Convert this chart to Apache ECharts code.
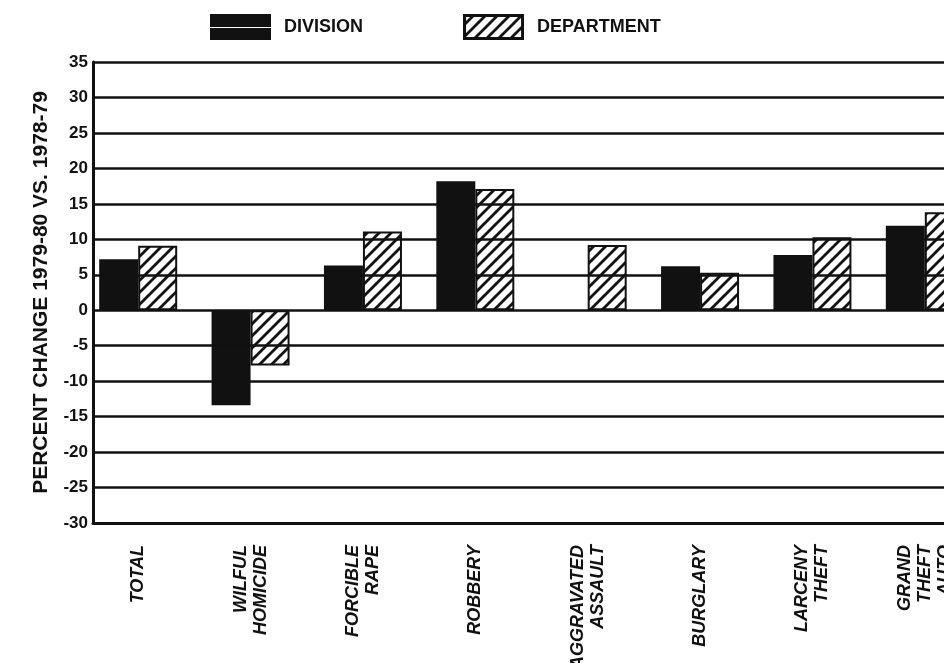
<!DOCTYPE html>
<html>
<head>
<meta charset="utf-8">
<title>Percent change 1979-80 vs. 1978-79</title>
<script src="https://cdn.jsdelivr.net/npm/echarts@6/dist/echarts.min.js"></script>
<style>
  html, body { margin: 0; padding: 0; background: #fff; }
  #chart { width: 944px; height: 663px; }
</style>
</head>
<body>
<div id="chart"></div>
<script>
// data
const categories = [
  'TOTAL',
  'WILFUL\nHOMICIDE',
  'FORCIBLE\nRAPE',
  'ROBBERY',
  'AGGRAVATED\nASSAULT',
  'BURGLARY',
  'LARCENY\nTHEFT',
  'GRAND\nTHEFT\nAUTO'
]
const division = [7.2, -13.4, 6.3, 18.2, 0, 6.2, 7.8, 11.9]
const department = [9.1, -7.8, 11.1, 17.1, 9.2, 5.3, 10.3, 13.8]
const yTicks = [-30, -25, -20, -15, -10, -5, 0, 5, 10, 15, 20, 25, 30, 35]

const ink = '#111'
const font = 'Liberation Sans'

// diagonal hatch tile for the department bars
function hatchCanvas(size, lw) {
  const c = document.createElement('canvas')
  c.width = size
  c.height = size
  const ctx = c.getContext('2d')
  ctx.fillStyle = '#fff'
  ctx.fillRect(0, 0, size, size)
  ctx.strokeStyle = ink
  ctx.lineWidth = lw
  ctx.beginPath()
  ctx.moveTo(-2, size + 2); ctx.lineTo(size + 2, -2)
  ctx.moveTo(-2, 2); ctx.lineTo(2, -2)
  ctx.moveTo(size - 2, size + 2); ctx.lineTo(size + 2, size - 2)
  ctx.stroke()
  return c
}

function legendIcon(hatched) {
  const c = document.createElement('canvas')
  c.width = 61
  c.height = 26
  const ctx = c.getContext('2d')
  if (hatched) {
    ctx.fillStyle = ctx.createPattern(hatchCanvas(12, 2.8), 'repeat')
    ctx.fillRect(0, 0, 61, 26)
    ctx.strokeStyle = ink
    ctx.lineWidth = 3
    ctx.strokeRect(1.5, 1.5, 58, 23)
  } else {
    ctx.fillStyle = ink
    ctx.fillRect(0, 0, 61, 26)
    ctx.fillStyle = '#fff'
    ctx.fillRect(0, 13, 61, 1)
  }
  return 'image://' + c.toDataURL()
}

const hatch = { image: hatchCanvas(12, 2.8), repeat: 'repeat' }

const chart = echarts.init(document.getElementById('chart'))

const options = {
  backgroundColor: '#fff',
  animation: false,
  legend: {
    left: 205,
    top: 9,
    itemWidth: 61,
    itemHeight: 26,
    itemGap: 100,
    textStyle: {
      fontFamily: font,
      fontSize: 18,
      fontWeight: 'bold',
      color: ink,
      padding: [0, 0, 0, 8]
    },
    data: [
      { name: 'DIVISION', icon: legendIcon(false) },
      { name: 'DEPARTMENT', icon: legendIcon(true) }
    ]
  },
  grid: [
    // frame, ticks and rules, running off the right edge
    { left: 93, top: 62, bottom: 140, width: 900, outerBoundsMode: 'none' },
    // bars: the picture is cut at the right, so the grid is wider than the page
    { left: 82, top: 62, bottom: 140, width: 899, outerBoundsMode: 'none' }
  ],
  xAxis: [
    {
      gridIndex: 0,
      type: 'value',
      min: 0,
      max: 1,
      axisLine: { onZero: false, lineStyle: { color: ink, width: 3 } },
      axisTick: { show: false },
      axisLabel: { show: false },
      splitLine: { show: false },
      z: 10
    },
    {
      gridIndex: 1,
      type: 'category',
      data: categories,
      axisLine: { show: false },
      axisTick: { show: false },
      axisLabel: {
        rotate: 90,
        margin: 22,
        interval: 0,
        fontFamily: font,
        fontSize: 18,
        fontWeight: 'bold',
        fontStyle: 'italic',
        color: ink,
        lineHeight: 20
      }
    }
  ],
  yAxis: [
    {
      gridIndex: 0,
      type: 'value',
      min: yTicks[0],
      max: yTicks[yTicks.length - 1],
      interval: yTicks[1] - yTicks[0],
      name: 'PERCENT CHANGE 1979-80 VS. 1978-79',
      nameLocation: 'middle',
      nameGap: 41,
      nameTextStyle: {
        fontFamily: font,
        fontSize: 21,
        fontWeight: 'bold',
        color: ink
      },
      axisLine: { show: true, lineStyle: { color: ink, width: 3 } },
      axisTick: { show: false },
      axisLabel: {
        margin: 5,
        fontFamily: font,
        fontSize: 17,
        fontWeight: 'bold',
        color: ink
      },
      splitLine: { show: true, lineStyle: { color: ink, width: 2.5 } },
      z: 10
    },
    {
      gridIndex: 1,
      type: 'value',
      min: yTicks[0],
      max: yTicks[yTicks.length - 1],
      show: false
    }
  ],
  series: [
    {
      name: 'DIVISION',
      type: 'bar',
      xAxisIndex: 1,
      yAxisIndex: 1,
      barWidth: 39,
      barGap: '0%',
      itemStyle: { color: ink },
      data: division
    },
    {
      name: 'DEPARTMENT',
      type: 'bar',
      xAxisIndex: 1,
      yAxisIndex: 1,
      barWidth: 39,
      barGap: '0%',
      itemStyle: { color: hatch, borderColor: ink, borderWidth: 2 },
      data: department
    }
  ]
}

chart.setOption(options)
</script>
</body>
</html>
